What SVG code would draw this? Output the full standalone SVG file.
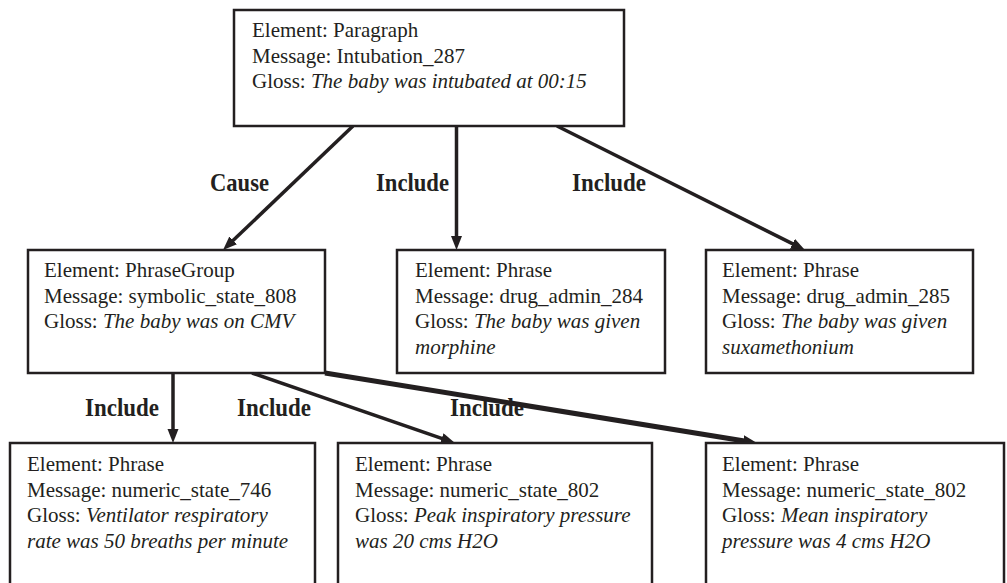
<svg xmlns="http://www.w3.org/2000/svg" width="1007" height="583" viewBox="0 0 1007 583">
<style>
  .box { fill: #ffffff; stroke: #231f20; stroke-width: 2.5; }
  .t { font-family: "Liberation Serif", "Times New Roman", serif; font-size: 21px; fill: #231f20; }
  .i { font-style: italic; }
  .lbl { font-family: "Liberation Serif", "Times New Roman", serif; font-size: 25px; font-weight: bold; fill: #231f20; }
  .edge { stroke: #231f20; stroke-width: 3.5; fill: none; marker-end: url(#arrow); }
  .thick { stroke-width: 5; }
</style>
<defs>
  <marker id="arrow" markerUnits="userSpaceOnUse" markerWidth="16" markerHeight="12" refX="6" refY="5.5" orient="auto">
    <path d="M0,0 L14,5.5 L0,11 z" fill="#231f20"/>
  </marker>
</defs>
<rect width="1007" height="583" fill="#ffffff"/>

<g id="connectors">
  <line class="edge" x1="353" y1="126" x2="228.8" y2="244.5"/>
  <line class="edge" x1="456.5" y1="126" x2="456.5" y2="242"/>
  <line class="edge" x1="557" y1="126" x2="797.8" y2="246.4"/>
  <line class="edge" x1="173" y1="373" x2="173" y2="435"/>
  <line class="edge" x1="252" y1="373" x2="447.4" y2="440.4"/>
  <line class="edge thick" x1="325" y1="373" x2="749.1" y2="441.7"/>
  <text class="lbl" x="210" y="191" textLength="59" lengthAdjust="spacingAndGlyphs">Cause</text>
  <text class="lbl" x="376" y="191" textLength="73" lengthAdjust="spacingAndGlyphs">Include</text>
  <text class="lbl" x="572" y="191" textLength="74" lengthAdjust="spacingAndGlyphs">Include</text>
  <text class="lbl" x="85" y="416" textLength="74" lengthAdjust="spacingAndGlyphs">Include</text>
  <text class="lbl" x="237" y="416" textLength="74" lengthAdjust="spacingAndGlyphs">Include</text>
  <text class="lbl" x="450" y="416" textLength="74" lengthAdjust="spacingAndGlyphs">Include</text>
</g>

<g id="paragraph">
  <rect class="box" x="234" y="10" width="390" height="116"/>
  <text class="t" x="252" y="37">Element: Paragraph</text>
  <text class="t" x="252" y="63">Message: Intubation_287</text>
  <text class="t" x="252" y="88">Gloss: <tspan class="i">The baby was intubated at 00:15</tspan></text>
</g>

<g id="phrasegroup">
  <rect class="box" x="28" y="250" width="297" height="123"/>
  <text class="t" x="44" y="277">Element: PhraseGroup</text>
  <text class="t" x="44" y="303">Message: symbolic_state_808</text>
  <text class="t" x="44" y="328">Gloss: <tspan class="i">The baby was on CMV</tspan></text>
</g>

<g id="drug284">
  <rect class="box" x="397" y="250" width="268" height="123"/>
  <text class="t" x="415" y="277">Element: Phrase</text>
  <text class="t" x="415" y="303">Message: drug_admin_284</text>
  <text class="t" x="415" y="328">Gloss: <tspan class="i">The baby was given</tspan></text>
  <text class="t i" x="415" y="354">morphine</text>
</g>

<g id="drug285">
  <rect class="box" x="706" y="250" width="267" height="123"/>
  <text class="t" x="722" y="277">Element: Phrase</text>
  <text class="t" x="722" y="303">Message: drug_admin_285</text>
  <text class="t" x="722" y="328">Gloss: <tspan class="i">The baby was given</tspan></text>
  <text class="t i" x="722" y="354">suxamethonium</text>
</g>

<g id="numeric746">
  <rect class="box" x="10" y="443" width="305" height="150"/>
  <text class="t" x="27" y="471">Element: Phrase</text>
  <text class="t" x="27" y="496.5">Message: numeric_state_746</text>
  <text class="t" x="27" y="522">Gloss: <tspan class="i">Ventilator respiratory</tspan></text>
  <text class="t i" x="27" y="547.5">rate was 50 breaths per minute</text>
</g>

<g id="numeric802a">
  <rect class="box" x="338" y="443" width="314" height="150"/>
  <text class="t" x="355" y="471">Element: Phrase</text>
  <text class="t" x="355" y="496.5">Message: numeric_state_802</text>
  <text class="t" x="355" y="522">Gloss: <tspan class="i">Peak inspiratory pressure</tspan></text>
  <text class="t i" x="355" y="547.5">was 20 cms H2O</text>
</g>

<g id="numeric802b">
  <rect class="box" x="706" y="443" width="298" height="150"/>
  <text class="t" x="722" y="471">Element: Phrase</text>
  <text class="t" x="722" y="496.5">Message: numeric_state_802</text>
  <text class="t" x="722" y="522">Gloss: <tspan class="i">Mean inspiratory</tspan></text>
  <text class="t i" x="722" y="547.5">pressure was 4 cms H2O</text>
</g>
</svg>
